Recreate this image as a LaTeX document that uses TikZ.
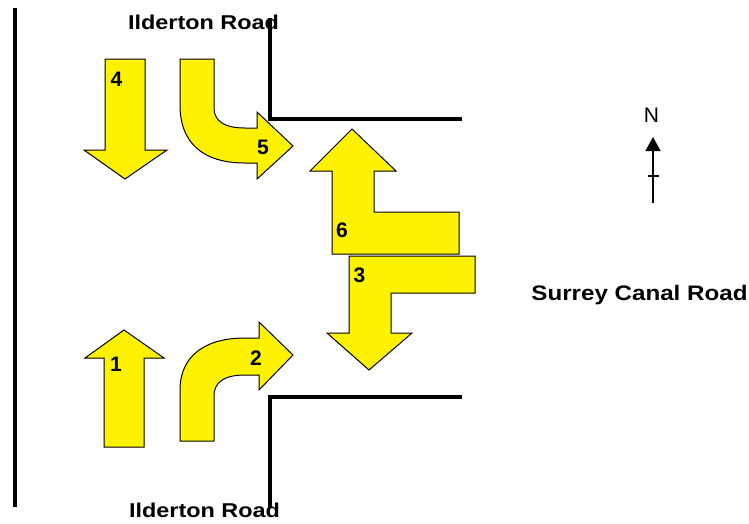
\documentclass[tikz,border=0pt]{standalone}
\usepackage{fontspec}
\setmainfont{Liberation Sans}
\usetikzlibrary{arrows.meta}
\tikzset{
  turnarrow/.style={fill=yellow, draw=black, line width=1pt, line join=miter},
  road/.style={draw=black, line width=4.5pt, line cap=rect, line join=miter},
  roadname/.style={inner sep=0pt, anchor=base, font=\fontsize{20}{24}\selectfont\bfseries},
  movenum/.style={inner sep=0pt, font=\fontsize{21}{24}\selectfont\bfseries},
}
\begin{document}
\begin{tikzpicture}[x=1pt, y=-1pt]
\useasboundingbox (0,0) rectangle (749,523);
% text labels
\node[roadname] (topname) at (203.5,29) {\scalebox{1.17}[1]{Ilderton Road}};
\node[roadname] (botname) at (204.5,517) {\scalebox{1.17}[1]{Ilderton Road}};
\node[roadname, font=\fontsize{21}{24}\selectfont\bfseries] (sidename) at (639.5,300) {\scalebox{1.15}[1]{Surrey Canal Road}};
% roads
\draw[road] (15,10) -- (15,505);
\draw[road] (270,20) -- (270,119) -- (460,119);
\draw[road] (460,397) -- (270,397) -- (270,505);
% arrow 4 (down)
\draw[turnarrow] (105,59) -- (145,59) -- (145,150) -- (167,150) -- (125,179) -- (84,150) -- (105,150) -- cycle;
% arrow 5 (bend left-to-east)
\draw[turnarrow] (180,59) -- (214,59) -- (214,108)
  .. controls (214,122) and (226,128) .. (245,128) -- (257,128) -- (257,112)
  -- (293,146) -- (257,179) -- (257,163) -- (245,163)
  .. controls (203,163) and (180,143) .. (180,105) -- cycle;
% arrow 1 (up)
\draw[turnarrow] (104,447) -- (144,447) -- (144,358) -- (164,358) -- (124,330) -- (85,358) -- (104,358) -- cycle;
% arrow 2 (bend up-to-east)
\draw[turnarrow] (180,441) -- (180,390)
  .. controls (180,356) and (205,338) .. (245,338) -- (259,338) -- (259,322)
  -- (293,355) -- (259,390) -- (259,375) -- (245,375)
  .. controls (226,375) and (214,381) .. (214,396) -- (214,441) -- cycle;
% arrow 6
\draw[turnarrow] (352,129) -- (396,171) -- (374,171) -- (374,212) -- (459,212) -- (459,254) -- (332,254) -- (332,171) -- (310,171) -- cycle;
% arrow 3
\draw[turnarrow] (349,256) -- (475,256) -- (475,293) -- (391,293) -- (391,333) -- (412,333) -- (369,370) -- (327,333) -- (349,333) -- cycle;
% numbers
\node[movenum] (n4) at (116.5,79.5) {4};
\node[movenum] (n5) at (263,147.5) {5};
\node[movenum] (n1) at (116,364) {1};
\node[movenum] (n2) at (256,358.5) {2};
\node[movenum] (n6) at (342,230.5) {6};
\node[movenum] (n3) at (359.5,275.5) {3};
% north arrow
\node[inner sep=0pt, font=\fontsize{21}{24}\selectfont] (north) at (651.5,115) {N};
\coordinate (nbot) at (653,203);
\coordinate (ntip) at (653,137);
\draw[line width=1.5pt, -{Triangle[length=14pt,width=15pt]}] (nbot) -- (ntip);
\draw[line width=1.5pt] (648,176) -- (659,176);
\end{tikzpicture}
\end{document}
